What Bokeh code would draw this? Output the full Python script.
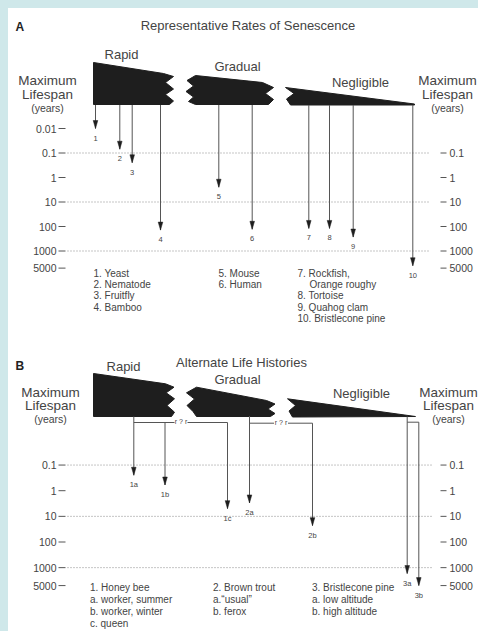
import numpy as np
from bokeh.plotting import figure
from bokeh.layouts import column
from bokeh.models import Range1d
from bokeh.embed import file_html
from bokeh.resources import INLINE
from bokeh.core.properties import value

# ------------------------------------------------------------------ data
# Panel A : representative rates of senescence
a_title = "Representative Rates of Senescence"
a_classes = ["Rapid", "Gradual", "Negligible"]
a_ids = ["1", "2", "3", "4", "5", "6", "7", "8", "9", "10"]
a_years = [0.01, 0.07, 0.25, 140, 2.5, 130, 120, 120, 270, 4000]
a_legend_1 = ["1. Yeast", "2. Nematode", "3. Fruitfly", "4. Bamboo"]
a_legend_2 = ["5. Mouse", "6. Human"]
a_legend_3 = ["7. Rockfish,", "Orange roughy", "8. Tortoise", "9. Quahog clam",
              "10. Bristlecone pine"]
a_left_ticks = [0.01, 0.1, 1, 10, 100, 1000, 5000]
a_left_labels = ["0.01", "0.1", "1", "10", "100", "1000", "5000"]

# Panel B : alternate life histories
b_title = "Alternate Life Histories"
b_classes = ["Rapid", "Gradual", "Negligible"]
b_ids = ["1a", "1b", "1c", "2a", "2b", "3a", "3b"]
b_years = [0.25, 0.6, 5, 3, 23, 1700, 5000]
b_legend_1 = ["1. Honey bee", "a. worker, summer", "b. worker, winter", "c. queen"]
b_legend_2 = ["2. Brown trout", "a.\u201cusual\u201d", "b. ferox"]
b_legend_3 = ["3. Bristlecone pine", "a. low altitude", "b. high altitude"]
b_left_ticks = [0.1, 1, 10, 100, 1000, 5000]
b_left_labels = ["0.1", "1", "10", "100", "1000", "5000"]

right_ticks = [0.1, 1, 10, 100, 1000, 5000]
right_labels = ["0.1", "1", "10", "100", "1000", "5000"]
dotted_levels = [0.1, 10, 1000]
axis_title = ["Maximum", "Lifespan", "(years)"]

# ------------------------------------------------------------------ style
FONT = value("Liberation Sans")
TXT = "#444444"
INK = "#1e1e1e"
LINE = "#555555"


def panel(top, height, y0, k):
    """figure whose y axis is log10(years); page-pixel y = y0 + k*log10(years)"""
    bottom = top + height
    p = figure(width=470, height=height, x_range=Range1d(8, 478),
               y_range=Range1d((bottom - y0) / k, (top - y0) / k),
               output_backend="svg", toolbar_location=None, min_border=0,
               x_axis_location=None, y_axis_location=None)
    p.grid.visible = False
    p.outline_line_color = None
    p.background_fill_color = "white"
    p.border_fill_color = "white"

    def fy(py):
        return (np.asarray(py, dtype=float) - y0) / k
    return p, fy, k


def txt(p, xs, ys, texts, size, align="left", color=TXT, style="normal"):
    p.text(x=list(xs), y=list(ys), text=list(texts), text_font=FONT,
           text_font_size=f"{size}px", text_align=align, text_baseline="middle",
           text_color=color, text_font_style=style)


def axes(p, fy, left_ticks, left_labels, dot_x1):
    lt = np.log10(left_ticks)
    txt(p, [56] * len(lt), lt, left_labels, 10.5, align="right")
    p.segment(x0=58, x1=65, y0=lt, y1=lt, line_color=LINE, line_width=1)
    rt = np.log10(right_ticks)
    p.segment(x0=440, x1=446, y0=rt, y1=rt, line_color=LINE, line_width=1)
    txt(p, [449] * len(rt), rt, right_labels, 10.5)
    dl = np.log10(dotted_levels)
    p.segment(x0=67, x1=dot_x1, y0=dl, y1=dl, line_color="#8a8a8a",
              line_width=1, line_dash="1 2")


def arrows(p, fy, k, xs, starts, years, ids):
    tips = np.log10(years)
    p.segment(x0=xs, x1=xs, y0=fy(starts), y1=tips, line_color=LINE, line_width=1)
    hx = [[x - 2.3, x + 2.3, x] for x in xs]
    hy = [[t - 8 / k, t - 8 / k, t] for t in tips]
    p.patches(xs=hx, ys=hy, fill_color=INK, line_color=INK, line_width=0.5)
    txt(p, xs, tips + 9.5 / k, ids, 7.5, align="center")


# ------------------------------------------------------------------ panel A
pa, fa, ka = panel(8, 323, 177.0, 24.5)
txt(pa, [15], fa([26]), ["A"], 12, style="bold", color="#222222")
txt(pa, [247.5], fa([25]), [a_title], 13, align="center")
txt(pa, [121, 237, 360], fa([54, 66, 82]), a_classes, 13, align="center")
for cx in (47, 447):
    txt(pa, [cx] * 2, fa([80, 94]), axis_title[:2], 13.5, align="center")
    txt(pa, [cx], fa([107]), axis_title[2:], 10.5, align="center")

wedges_a = [
    [(93, 62), (163, 73), (173, 76), (165, 82), (173, 88.5), (165, 94),
     (173, 100.5), (169, 104), (93, 104)],
    [(195, 75), (262, 82), (273, 87), (265, 93), (273, 99), (268, 104),
     (195, 104), (188, 101), (193, 96.5), (185.5, 91), (193, 85.5), (186.5, 80)],
    [(285, 87), (414, 103.5), (414, 104.5), (290, 104.5), (286, 98.5),
     (293.5, 93)],
]
for w in wedges_a:
    pa.patch([q[0] for q in w], fa([q[1] for q in w]), fill_color=INK,
             line_color=INK, line_width=1)

axes(pa, fa, a_left_ticks, a_left_labels, 428)

a_x = [95, 119.3, 131.7, 160, 218.3, 251.7, 308.3, 329, 352.7, 412.3]
a_start = [104.5] * 10
arrows(pa, fa, ka, a_x, a_start, a_years, a_ids)

txt(pa, [93] * 4, fa([272.7, 284, 295.3, 306.7]), a_legend_1, 10)
txt(pa, [218] * 2, fa([272.7, 284]), a_legend_2, 10)
txt(pa, [297, 309, 297, 297, 297], fa([272.7, 284, 295.3, 306.7, 318.3]),
    a_legend_3, 10)

# ------------------------------------------------------------------ panel B
pb, fb, kb = panel(331, 300, 490.2, 25.65)
txt(pb, [15], fb([365]), ["B"], 12, style="bold", color="#222222")
txt(pb, [241], fb([362]), [b_title], 13, align="center")
txt(pb, [123, 237, 361], fb([366, 379, 393]), b_classes, 13, align="center")
for cx in (50, 448):
    txt(pb, [cx] * 2, fb([391.7, 405]), axis_title[:2], 13.5, align="center")
    txt(pb, [cx], fb([418]), axis_title[2:], 10.5, align="center")

wedges_b = [
    [(93, 373), (165, 383.3), (173.5, 386.7), (165.7, 392.3), (174, 398.3),
     (166.5, 405), (174, 411.7), (171, 416), (93, 416)],
    [(196, 386.7), (266, 400), (274.5, 403.5), (267.5, 408.5), (274.5, 413),
     (270, 416), (196, 416), (192.5, 411), (186.5, 405), (194, 398.5),
     (186, 392.3)],
    [(287, 398.3), (415, 416), (292, 416.5), (288.5, 410.5), (295, 405)],
]
for w in wedges_b:
    pb.patch([q[0] for q in w], fb([q[1] for q in w]), fill_color=INK,
             line_color=INK, line_width=1)

# connectors between alternative histories
hx0 = [133.3, 187, 249, 287.5, 406.7]
hx1 = [174, 227, 273.5, 312, 418.3]
hy = fb([422, 422, 422.7, 422.7, 421.7])
pb.segment(x0=hx0, x1=hx1, y0=hy, y1=hy, line_color=LINE, line_width=1)
txt(pb, [180.5, 280.5], fb([421, 421.7]), ["r ? r", "r ? r"], 7, align="center")

axes(pb, fb, b_left_ticks, b_left_labels, 433)

b_x = [133.3, 164.5, 227, 249, 312, 406.7, 418.3]
b_start = [416, 422, 422, 415.5, 422.7, 416, 421.7]
arrows(pb, fb, kb, b_x, b_start, b_years, b_ids)

txt(pb, [89.5] * 4, fb([587, 599, 611, 623]), b_legend_1, 10)
txt(pb, [212.5] * 3, fb([587, 599, 611]), b_legend_2, 10)
txt(pb, [311.5] * 3, fb([587, 599, 611]), b_legend_3, 10)

# ------------------------------------------------------------------ output
p = column(pa, pb, spacing=0, styles={"background-color": "white"})
html = file_html(p, INLINE)
page_css = ("<style>html,body{background:#cfe8ea !important;}"
            "body{margin:0 !important;padding:8px 0 0 8px !important;"
            "overflow:hidden !important;}</style>")
html = html.replace("</head>", page_css + "\n</head>", 1)
open("out.html", "w").write(html)
